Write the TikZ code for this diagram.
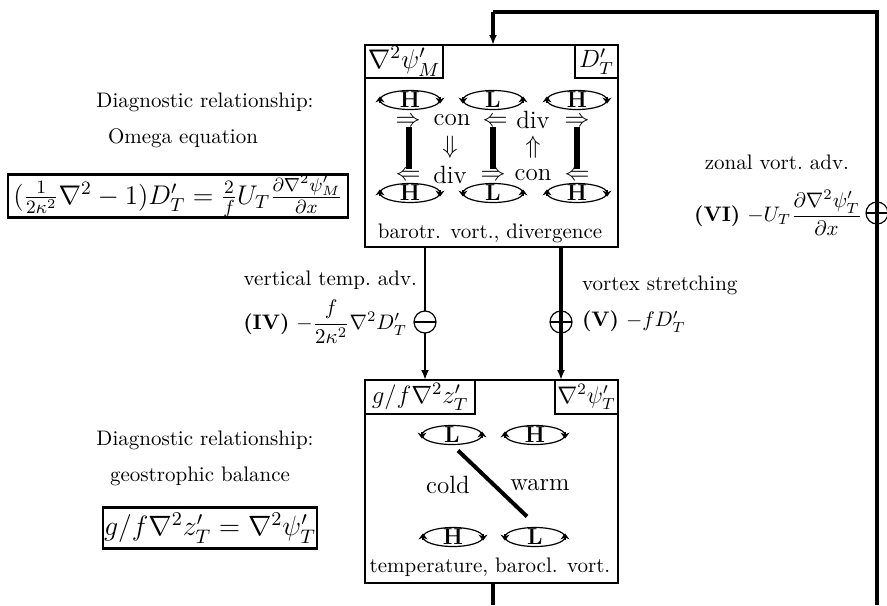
\RequirePackage{fix-cm}
\documentclass[tikz,border=0pt]{standalone}
\usepackage{amsmath}
\usetikzlibrary{shapes.geometric,arrows.meta,calc}
\newcommand{\Hrot}[1]{\draw[rtip] ([yshift=1.5pt]#1.east) -- ([yshift=-1.8pt]#1.east); \draw[rtip] ([yshift=-1.5pt]#1.west) -- ([yshift=1.8pt]#1.west);}
\newcommand{\Lrot}[1]{\draw[rtip] ([yshift=-1.5pt]#1.east) -- ([yshift=1.8pt]#1.east); \draw[rtip] ([yshift=1.5pt]#1.west) -- ([yshift=-1.8pt]#1.west);}
\begin{document}
\begin{tikzpicture}[x=0.5pt,y=-0.5pt,
  every node/.style={font=\fontsize{10.5}{12.6}\selectfont, inner sep=0pt, outer sep=0pt},
  big/.style={font=\fontsize{12.5}{14}\selectfont},
  arr/.style={font=\fontsize{12.5}{14}\selectfont, text height=4pt, text depth=0pt},
  mainbox/.style={draw, line width=1pt, minimum width=126.5pt, minimum height=101pt},
  lbox/.style={draw, line width=1.4pt, minimum height=16.5pt, font=\fontsize{12.5}{14}\selectfont},
  elli/.style={ellipse, draw, line width=0.6pt, minimum width=30pt, minimum height=9.5pt},
  let/.style={font=\fontsize{11.5}{13}\selectfont\bfseries},
  rtip/.style={line width=0.6pt, -{Stealth[length=3pt,width=4.5pt]}},
  bar/.style={line width=3pt},
  eqbox/.style={draw, line width=1.4pt, font=\fontsize{13.5}{16}\selectfont},
  sgn/.style={circle, draw, line width=0.6pt, minimum size=11pt},
  thinline/.style={line width=1pt},
  thickline/.style={line width=2pt},
  tip/.style={-{Latex[length=5pt,width=4pt]}}
]
\useasboundingbox (0,0) rectangle (887,605);

% ---------- top box ----------
\node[mainbox] (tb) at (491.5,146) {};
\node[lbox, minimum width=39pt, anchor=north west, font=\fontsize{13.5}{15}\selectfont] (tbl) at (tb.north west) {$\nabla^2\psi'_M$};
\node[lbox, minimum width=21.5pt, anchor=north east] (tbr) at (tb.north east) {$D'_T$};

\node[elli] (tH1) at (410,100) {}; \node[let] at (tH1) {H}; \Hrot{tH1}
\node[elli] (tL1) at (493,100) {}; \node[let] at (tL1) {L}; \Lrot{tL1}
\node[elli] (tH2) at (577,100) {}; \node[let] at (tH2) {H}; \Hrot{tH2}
\node[elli] (tH3) at (410,193) {}; \node[let] at (tH3) {H}; \Hrot{tH3}
\node[elli] (tL2) at (493,193) {}; \node[let] at (tL2) {L}; \Lrot{tL2}
\node[elli] (tH4) at (577,193) {}; \node[let] at (tH4) {H}; \Hrot{tH4}

\node[arr] (a1) at (408,122) {$\Rightarrow$};
\node[big] (w1) at (452,120) {con};
\node[arr] (a2) at (495,122) {$\Leftarrow$};
\node[big] (w2) at (533,120) {div};
\node[arr] (a3) at (577,122) {$\Rightarrow$};
\node[arr] (a4) at (408,176) {$\Leftarrow$};
\node[big] (w3) at (450,175) {div};
\node[arr] (a5) at (493,176) {$\Rightarrow$};
\node[big] (w4) at (533,175) {con};
\node[arr] (a6) at (577,176) {$\Leftarrow$};
\node[big] (d1) at (450,147) {$\Downarrow$};
\node[big] (d2) at (533,147) {$\Uparrow$};
\draw[bar] ([xshift=0.5pt,yshift=-2.5pt]a1.center) -- ([xshift=0.5pt,yshift=3.5pt]a4.center);
\draw[bar] ([xshift=-1pt,yshift=-2.5pt]a2.center) -- ([yshift=3.5pt]a5.center);
\draw[bar] ([yshift=-2.5pt]a3.center) -- ([yshift=3.5pt]a6.center);
\node (cap1) at (490,233) {barotr. vort., divergence};

% ---------- bottom box ----------
\node[mainbox, minimum height=101.5pt] (bb) at (491.5,481.5) {};
\node[lbox, minimum width=55pt, minimum height=17pt, anchor=north west] (bbl) at (bb.north west) {$g/f\nabla^2z'_T$};
\node[lbox, minimum width=31.5pt, minimum height=17pt, anchor=north east, font=\fontsize{12}{14}\selectfont] (bbr) at (bb.north east) {$\nabla^2\psi'_T$};

\node[elli] (bL1) at (452,435) {}; \node[let] at (bL1) {L}; \Lrot{bL1}
\node[elli] (bH1) at (535,435) {}; \node[let] at (bH1) {H}; \Hrot{bH1}
\node[elli] (bH2) at (453,537) {}; \node[let] at (bH2) {H}; \Hrot{bH2}
\node[elli] (bL2) at (535,537) {}; \node[let] at (bL2) {L}; \Lrot{bL2}
\node[big] (cold) at (448,485) {cold};
\node[big] (warm) at (540,485) {warm};
\draw[line width=2pt] ([xshift=3pt,yshift=-3pt]bL1.south) -- ([xshift=-4pt,yshift=5.5pt]bL2.north);
\node (cap2) at (490,567) {temperature, barocl. vort.};

% ---------- loop on the right ----------
\coordinate (c1) at (493,12);
\coordinate (c3) at (877,605);
\coordinate (c4) at (493,605);
\draw[thickline] (c3) |- (c1);
\draw[thickline, tip] (c1) -- (c1 |- tb.north);
\draw[thickline] (c4 |- bb.south) -- (c4);
\node[sgn] (p3) at (877,213) {};
\draw[line width=0.6pt] (p3.west) -- (p3.east);
\node (t6a) [anchor=east] at (849,162) {zonal vort.\ adv.};
\node (t6b) [anchor=east] at (862,213) {\textbf{(VI)}\ $-U_T\dfrac{\partial\nabla^2\psi'_T}{\partial x}$};

% ---------- left connection (IV) ----------
\node[sgn] (m1) at (425,322) {};
\draw[line width=0.6pt] (m1.west) -- (m1.east);
\draw[thinline] (tb.south -| m1) -- (m1.north);
\draw[thinline, tip] (m1.south) -- (bb.north -| m1);
\node (t4a) [anchor=east] at (417,280) {vertical temp.\ adv.};
\node (t4b) [anchor=east] at (407,322) {\textbf{(IV)}\ $-\dfrac{f}{2\kappa^2}\nabla^2D'_T$};

% ---------- right connection (V) ----------
\node[sgn] (p1) at (561,322) {};
\draw[line width=0.6pt] (p1.west) -- (p1.east);
\draw[thickline, tip] (tb.south -| p1) -- (bb.north -| p1);
\node (t5a) [anchor=west] at (582,285) {vortex stretching};
\node (t5b) [anchor=west] at (582,322) {\textbf{(V)}\ $-fD'_T$};

% ---------- left texts ----------
\node (d1a) at (205,102) {Diagnostic relationship:};
\node (d1b) at (183,138) {Omega equation};
\node[eqbox, minimum width=170pt, minimum height=21.5pt] (eq1) at (178,196)
  {$(\frac{1}{2\kappa^2}\nabla^2-1)D'_T=\frac{2}{f}U_T\frac{\partial\nabla^2\psi'_M}{\partial x}$};
\node (d2a) at (205,440) {Diagnostic relationship:};
\node (d2b) at (200,476) {geostrophic balance};
\node[eqbox, minimum width=107pt, minimum height=20.5pt, font=\fontsize{14}{17}\selectfont] (eq2) at (210,528)
  {$g/f\nabla^2z'_T=\nabla^2\psi'_T$};
\end{tikzpicture}
\end{document}
